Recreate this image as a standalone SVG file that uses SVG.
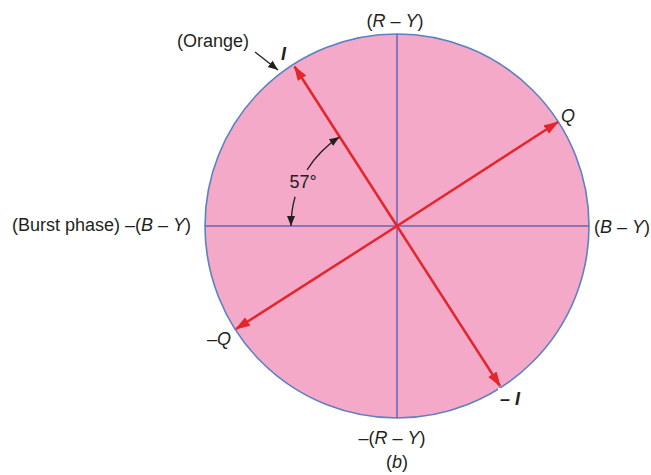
<svg xmlns="http://www.w3.org/2000/svg" width="651" height="475" viewBox="0 0 651 475">
<defs>
<style>
text{font-family:"Liberation Sans",Arial,sans-serif;font-size:18px;fill:#231f20}
.it{font-style:italic}
.bi{font-style:italic;font-weight:bold}
.axis{stroke:#6b63b5;stroke-width:1.5;fill:none}
.vec{stroke:#e3262b;stroke-width:2.5;fill:none;marker-end:url(#ra)}
.blk{stroke:#231f20;stroke-width:1.3;fill:none;marker-end:url(#ba)}
</style>
<marker id="ra" markerUnits="userSpaceOnUse" markerWidth="16" markerHeight="12" refX="14" refY="5" orient="auto"><path d="M0,0 L15,5 L0,10 z" fill="#e3262b"/></marker>
<marker id="ba" markerUnits="userSpaceOnUse" markerWidth="12" markerHeight="10" refX="10" refY="4" orient="auto"><path d="M0,0 L10,4 L0,8 z" fill="#231f20"/></marker>
</defs>
<rect width="651" height="475" fill="#ffffff"/>
<g id="circle">
<circle cx="397" cy="226" r="192" fill="#f4a9c9" stroke="#5b80c4" stroke-width="1.6"/>
</g>
<g id="axes">
<line class="axis" x1="397" y1="34" x2="397" y2="418"/>
<line class="axis" x1="205" y1="226" x2="589" y2="226"/>
</g>
<g id="connectors">
<line class="vec" x1="397" y1="226" x2="294.5" y2="66.5"/>
<line class="vec" x1="397" y1="226" x2="500" y2="386"/>
<line class="vec" x1="397" y1="226" x2="558" y2="122"/>
<line class="vec" x1="397" y1="226" x2="236" y2="329"/>
<path class="blk" d="M295.1,196.8 A106,106 0 0 0 291,226"/>
<path class="blk" d="M307.1,169.8 A106,106 0 0 1 339.3,137.1"/>
<line class="blk" x1="255" y1="52" x2="278" y2="70"/>
</g>
<g id="labels">
<text x="177" y="47">(Orange)</text>
<text class="bi" x="281" y="60">I</text>
<text x="395" y="27" text-anchor="middle">(<tspan class="it">R</tspan> – <tspan class="it">Y</tspan>)</text>
<text x="12" y="231">(Burst phase) –(<tspan class="it">B</tspan> – <tspan class="it">Y</tspan>)</text>
<text x="594" y="233">(<tspan class="it">B</tspan> – <tspan class="it">Y</tspan>)</text>
<text x="303" y="188" text-anchor="middle">57°</text>
<text class="it" x="561" y="122">Q</text>
<text x="207" y="345">–<tspan class="it">Q</tspan></text>
<rect x="498" y="388" width="27" height="21" fill="#ffffff"/>
<text class="bi" x="500" y="405">– I</text>
<text x="392" y="444" text-anchor="middle">–(<tspan class="it">R</tspan> – <tspan class="it">Y</tspan>)</text>
<text x="397" y="468" text-anchor="middle">(<tspan class="it">b</tspan>)</text>
</g>
</svg>
